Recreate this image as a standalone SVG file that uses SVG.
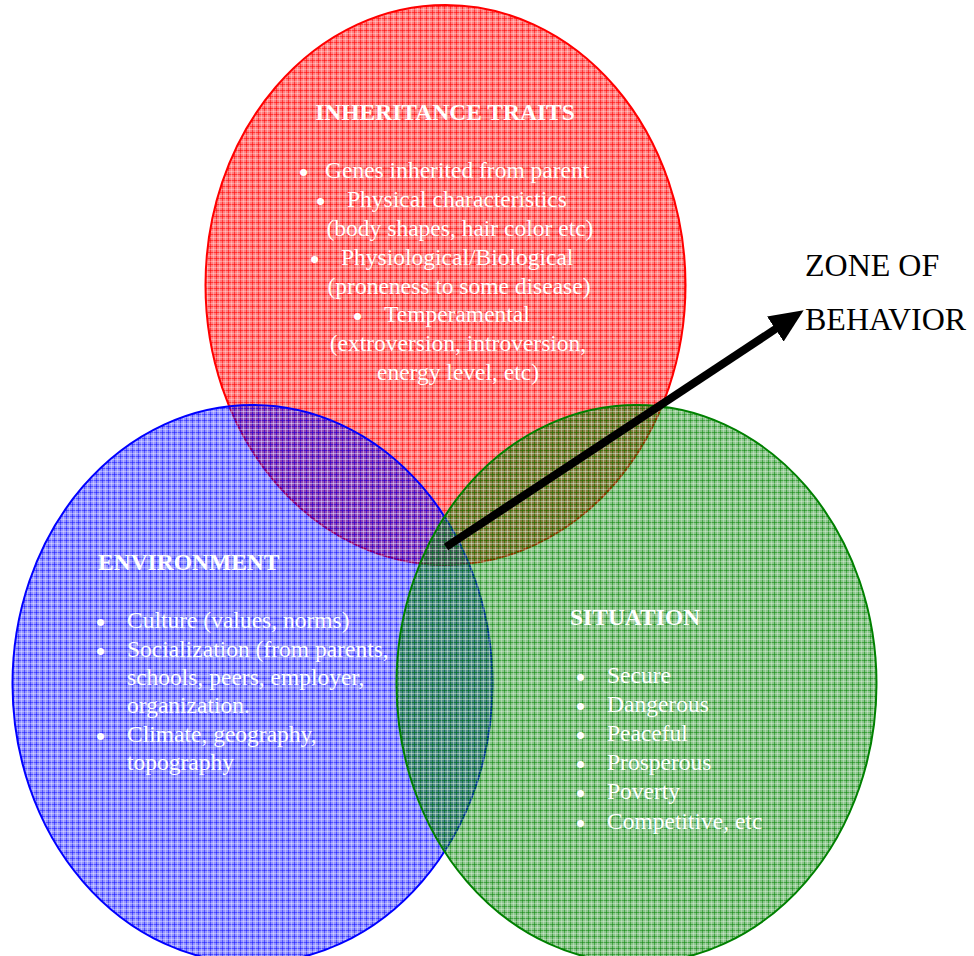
<svg xmlns="http://www.w3.org/2000/svg" width="974" height="956" viewBox="0 0 974 956">
<defs>
<pattern id="pr" patternUnits="userSpaceOnUse" width="6" height="6">
<rect width="6" height="6" fill="#ff0000" fill-opacity="0.5"/>
<rect width="6" height="1" fill="#ff0000" fill-opacity="0.55"/>
<rect width="1" height="6" fill="#ff0000" fill-opacity="0.55"/>
<rect y="3" width="6" height="1" fill="#ffffff" fill-opacity="0.3"/>
<rect x="3" width="1" height="6" fill="#ffffff" fill-opacity="0.3"/>
</pattern>
<pattern id="pb" patternUnits="userSpaceOnUse" width="6" height="6">
<rect width="6" height="6" fill="#0000ff" fill-opacity="0.42"/>
<rect width="6" height="1" fill="#0000ff" fill-opacity="0.45"/>
<rect width="1" height="6" fill="#0000ff" fill-opacity="0.45"/>
<rect y="3" width="6" height="1" fill="#ffffff" fill-opacity="0.35"/>
<rect x="3" width="1" height="6" fill="#ffffff" fill-opacity="0.35"/>
</pattern>
<pattern id="pg" patternUnits="userSpaceOnUse" width="6" height="6">
<rect width="6" height="6" fill="#008000" fill-opacity="0.45"/>
<rect width="6" height="1" fill="#008000" fill-opacity="0.5"/>
<rect width="1" height="6" fill="#008000" fill-opacity="0.5"/>
<rect y="3" width="6" height="1" fill="#ffffff" fill-opacity="0.3"/>
<rect x="3" width="1" height="6" fill="#ffffff" fill-opacity="0.3"/>
</pattern>
<marker id="ah" markerUnits="userSpaceOnUse" markerWidth="36" markerHeight="30" refX="2" refY="15" orient="auto">
<path d="M0,0 L34,15 L0,30 z" fill="#000"/>
</marker>
<style>
.t{font-family:"Liberation Serif","Times New Roman",serif;fill:#fff;font-size:23.5px}
.h{font-weight:bold;font-size:23.5px}
.c{text-anchor:middle}
.b{font-family:"Liberation Sans",Arial,sans-serif;fill:#fff;font-size:26px}
.k{font-family:"Liberation Serif","Times New Roman",serif;fill:#000;font-size:32px}
</style>
</defs>
<rect width="974" height="956" fill="#fff"/>
<g id="inheritance">
<ellipse cx="445.5" cy="285" rx="240" ry="280" fill="url(#pr)" stroke="#ff0000" stroke-width="2"/>
<text class="t h" x="445" y="120" text-anchor="middle">INHERITANCE TRAITS</text>
<text class="b" x="299" y="181">•</text><text class="t" x="325" y="178">Genes inherited from parent</text>
<text class="b" x="316" y="210">•</text><text class="t" x="347" y="207">Physical characteristics</text>
<text class="t c" x="460" y="236">(body shapes, hair color etc)</text>
<text class="b" x="310" y="268">•</text><text class="t" x="341" y="265">Physiological/Biological</text>
<text class="t c" x="459" y="294">(proneness to some disease)</text>
<text class="b" x="353" y="325">•</text><text class="t" x="384" y="322">Temperamental</text>
<text class="t c" x="458" y="351">(extroversion, introversion,</text>
<text class="t c" x="458" y="380">energy level, etc)</text>
</g>
<g id="environment">
<ellipse cx="252.5" cy="684" rx="240" ry="279" fill="url(#pb)" stroke="#0000ff" stroke-width="2"/>
<text class="t h" x="98" y="570">ENVIRONMENT</text>
<text class="b" x="96" y="631">•</text><text class="t" x="127" y="628">Culture (values, norms)</text>
<text class="b" x="96" y="660">•</text><text class="t" x="127" y="657">Socialization (from parents,</text>
<text class="t" x="127" y="685">schools, peers, employer,</text>
<text class="t" x="127" y="713">organization.</text>
<text class="b" x="96" y="745">•</text><text class="t" x="127" y="742">Climate, geography,</text>
<text class="t" x="127" y="770">topography</text>
</g>
<g id="situation">
<ellipse cx="636.5" cy="684" rx="240" ry="279" fill="url(#pg)" stroke="#008000" stroke-width="2"/>
<text class="t h" x="570" y="625">SITUATION</text>
<text class="b" x="576" y="686">•</text><text class="t" x="607" y="683">Secure</text>
<text class="b" x="576" y="715">•</text><text class="t" x="607" y="712">Dangerous</text>
<text class="b" x="576" y="744">•</text><text class="t" x="607" y="741">Peaceful</text>
<text class="b" x="576" y="773">•</text><text class="t" x="607" y="770">Prosperous</text>
<text class="b" x="576" y="802">•</text><text class="t" x="607" y="799">Poverty</text>
<text class="b" x="576" y="832">•</text><text class="t" x="607" y="829">Competitive, etc</text>
</g>
<g id="zone">
<text class="k" x="805" y="276">ZONE OF</text>
<text class="k" x="805" y="330">BEHAVIOR</text>
</g>
<g id="connectors">
<line x1="446" y1="547" x2="777" y2="328" stroke="#000" stroke-width="8" marker-end="url(#ah)"/>
</g>
</svg>
